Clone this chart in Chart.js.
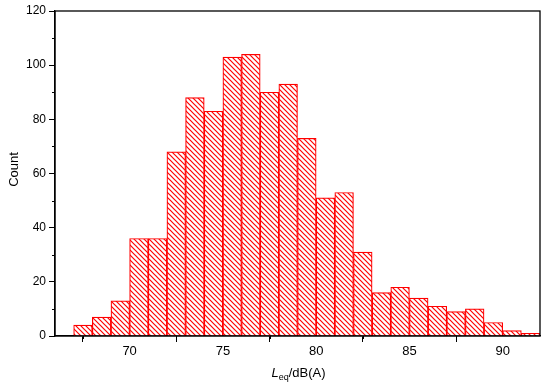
<!DOCTYPE html>
<html>
<head>
<meta charset="utf-8">
<script src="https://cdn.jsdelivr.net/npm/chart.js@4/dist/chart.umd.min.js"></script>
<style>
html,body{margin:0;padding:0;background:#fff;}
#wrap{width:550px;height:391px;position:relative;}
</style>
</head>
<body>
<div id="wrap"><canvas id="c" width="550" height="391"></canvas></div>
<script>
// Histogram data: bin left edges (width 1 dB) and counts
const binStarts = [67,68,69,70,71,72,73,74,75,76,77,78,79,80,81,82,83,84,85,86,87,88,89,90,91];
const counts    = [4,7,13,36,36,68,88,83,103,104,90,93,73,51,53,31,16,18,14,11,9,10,5,2,1];
const xMajorTicks = [70,75,80,85,90];
const xMinorTicks = [67.5,72.5,77.5,82.5,87.5];
const yMajorTicks = [0,20,40,60,80,100,120];
const yMinorTicks = [10,30,50,70,90,110];
const yTitle = 'Count';

function makeHatch(){
  const s = 5;
  const p = document.createElement('canvas');
  p.width = s; p.height = s;
  const g = p.getContext('2d');
  g.fillStyle = '#fff'; g.fillRect(0,0,s,s);
  g.strokeStyle = '#ff0000'; g.lineWidth = 1.2;
  g.beginPath();
  g.moveTo(-1,-1); g.lineTo(s+1,s+1);
  g.moveTo(s-1,-1); g.lineTo(s+1,1);
  g.moveTo(-1,s-1); g.lineTo(1,s+1);
  g.stroke();
  return document.getElementById('c').getContext('2d').createPattern(p,'repeat');
}

const decor = {
  id:'decor',
  afterDraw(chart){
    const ctx = chart.ctx, a = chart.chartArea;
    const xs = chart.scales.x, ys = chart.scales.y;
    ctx.save();
    ctx.strokeStyle = '#000'; ctx.lineWidth = 1.3;
    ctx.strokeRect(a.left, a.top, a.right-a.left, a.bottom-a.top);
    ctx.lineWidth = 1;
    ctx.beginPath();
    xMinorTicks.forEach(v=>{const px=Math.round(xs.getPixelForValue(v))+0.5; ctx.moveTo(px,a.bottom); ctx.lineTo(px,a.bottom+3);});
    yMinorTicks.forEach(v=>{const py=Math.round(ys.getPixelForValue(v))+0.5; ctx.moveTo(a.left,py); ctx.lineTo(a.left-3,py);});
    ctx.stroke();
    // y title
    ctx.fillStyle = '#000';
    ctx.font = '13px "Liberation Sans", Arial, sans-serif';
    ctx.textAlign = 'center'; ctx.textBaseline = 'middle';
    ctx.translate(14, (a.top+a.bottom)/2 - 4);
    ctx.rotate(-Math.PI/2);
    ctx.fillText(yTitle, 0, 0);
    ctx.restore();
    // x title: L_eq/dB(A)
    ctx.save();
    ctx.fillStyle = '#000';
    ctx.textBaseline = 'alphabetic';
    const fMain = '13px "Liberation Sans", Arial, sans-serif';
    const fIt = 'italic 13px "Liberation Sans", Arial, sans-serif';
    const fSub = '9px "Liberation Sans", Arial, sans-serif';
    ctx.font = fIt; const wL = ctx.measureText('L').width;
    ctx.font = fSub; const wS = ctx.measureText('eq').width;
    ctx.font = fMain; const wR = ctx.measureText('/dB(A)').width;
    const total = wL + wS + wR;
    let x = (a.left + a.right)/2 - total/2 + 1;
    const y = 377;
    ctx.textAlign = 'left';
    ctx.font = fIt; ctx.fillText('L', x, y); x += wL;
    ctx.font = fSub; ctx.fillText('eq', x, y+3); x += wS;
    ctx.font = fMain; ctx.fillText('/dB(A)', x, y);
    ctx.restore();
  }
};

const hatch = makeHatch();
new Chart(document.getElementById('c'), {
  type:'bar',
  data:{
    datasets:[{
      data: binStarts.map((b,i)=>({x:b+0.5, y:counts[i]})),
      backgroundColor: hatch,
      borderColor:'#ff0000',
      borderWidth:1.2,
      barPercentage:1,
      categoryPercentage:1
    }]
  },
  options:{
    responsive:false,
    animation:false,
    devicePixelRatio:1,
    layout:{padding:{top:11,right:10,left:0,bottom:0}},
    plugins:{legend:{display:false},tooltip:{enabled:false}},
    scales:{
      x:{
        type:'linear', min:66, max:92, offset:false,
        afterBuildTicks(s){ s.ticks = xMajorTicks.map(v=>({value:v})); },
        afterFit(s){ s.height = 55; },
        grid:{display:true, drawOnChartArea:false, tickLength:6, color:'#000', lineWidth:1},
        border:{display:true, color:'#000', width:1.3},
        ticks:{color:'#000', padding:2, maxRotation:0, font:{family:'"Liberation Sans", Arial, sans-serif', size:13}}
      },
      y:{
        min:0, max:120,
        afterBuildTicks(s){ s.ticks = yMajorTicks.map(v=>({value:v})); },
        afterFit(s){ s.width = 55; },
        grid:{display:true, drawOnChartArea:false, tickLength:6, color:'#000', lineWidth:1},
        border:{display:true, color:'#000', width:1.3},
        ticks:{color:'#000', padding:3, font:{family:'"Liberation Sans", Arial, sans-serif', size:12}}
      }
    }
  },
  plugins:[decor]
});
</script>
</body>
</html>
